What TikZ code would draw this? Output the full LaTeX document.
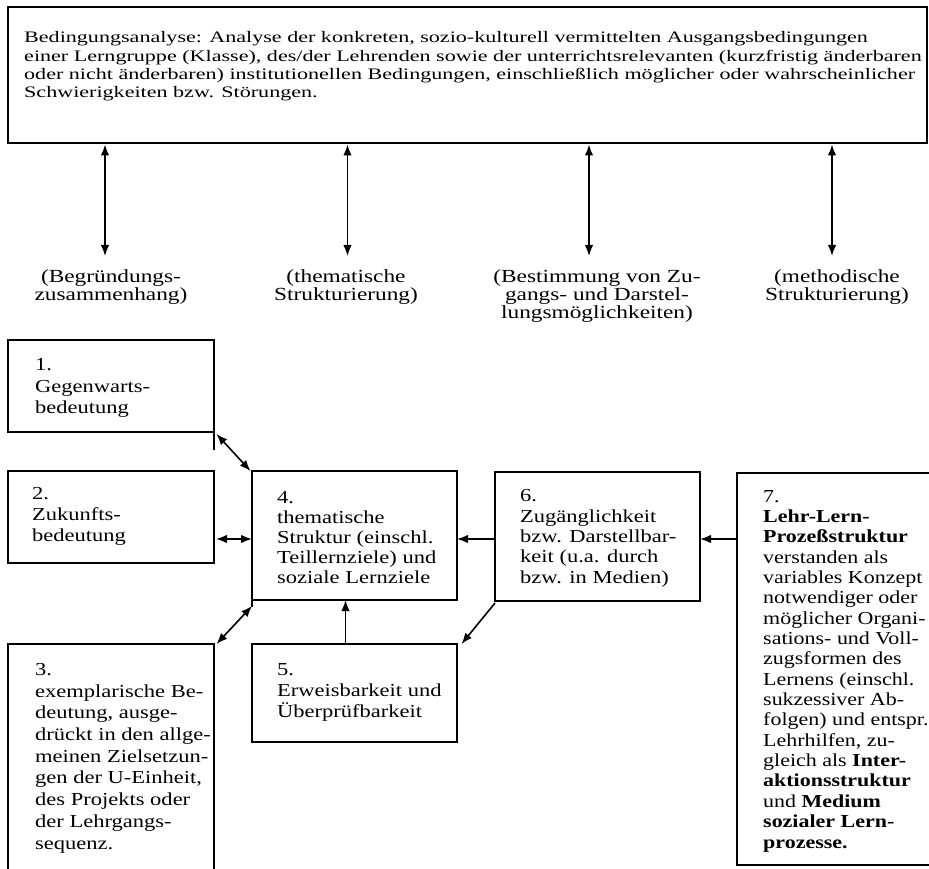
\documentclass[tikz,border=0pt]{standalone}
\usepackage{fontspec}
\setmainfont{Liberation Serif}
\newfontfamily\dfont[FakeStretch=1.23]{Liberation Serif}
\newfontfamily\sfontb[FakeStretch=1.20]{Liberation Serif}
\newfontfamily\lfont[FakeStretch=1.26]{Liberation Serif}
\newfontfamily\tfont[FakeStretch=1.38]{Liberation Serif}
\usetikzlibrary{arrows.meta,calc}
\begin{document}
\begin{tikzpicture}[x=1pt,y=-1pt,
  >={Latex[length=11pt,width=8.5pt]},
  box/.style={draw, line width=1.8pt, inner sep=0pt, outer sep=0pt, anchor=north west},
  txt/.style={anchor=base west, align=left, inner sep=0pt},
  toptxt/.style={anchor=base west, align=left, inner sep=0pt, font=\tfont\fontsize{16}{18.2}\selectfont},
  lbl/.style={anchor=base, align=center, inner sep=0pt, font=\lfont\fontsize{18.5}{18}\selectfont},
  arr/.style={line width=1.6pt}]
\clip (0,0) rectangle (929,869);
% boxes
\node[box, minimum width=919pt, minimum height=136pt] (b0) at (8,7) {};
\node[box, minimum width=206pt, minimum height=92pt] (b1) at (8,340) {};
\node[box, minimum width=206pt, minimum height=92pt] (b2) at (8,471) {};
\node[box, minimum width=206pt, minimum height=240pt] (b3) at (8,644) {};
\node[box, minimum width=205pt, minimum height=129pt] (b4) at (252,471) {};
\node[box, minimum width=205pt, minimum height=98pt] (b5) at (252,644) {};
\node[box, minimum width=205pt, minimum height=129pt] (b6) at (495,472) {};
\node[box, minimum width=215pt, minimum height=392pt] (b7) at (737,473) {};
\draw[line width=1.8pt] (b1.south east) -- ++(0,18);
\draw[line width=1.8pt] (b4.south west) -- ++(0,7);
% texts (anchored at the baseline of their last line)
\node[toptxt] (t0) at (24,97.6) {Bedingungsanalyse: Analyse der konkreten, sozio-kulturell vermittelten Ausgangsbedingungen\\
einer Lerngruppe (Klasse), des/der Lehrenden sowie der unterrichtsrelevanten (kurzfristig änderbaren\\
oder nicht änderbaren) institutionellen Bedingungen, einschließlich möglicher oder wahrscheinlicher\\
Schwierigkeiten bzw. Störungen.};
\node[txt, font=\dfont\fontsize{18.3}{21.5}\selectfont] (t1) at (35,413.5) {1.\\Gegenwarts-\\bedeutung};
\node[txt, font=\dfont\fontsize{18.3}{21}\selectfont] (t2) at (32,541) {2.\\Zukunfts-\\bedeutung};
\node[txt, font=\dfont\fontsize{18.3}{21.7}\selectfont] (t3) at (35,849) {3.\\exemplarische Be-\\deutung, ausge-\\drückt in den allge-\\meinen Zielsetzun-\\gen der U-Einheit,\\des Projekts oder\\der Lehrgangs-\\sequenz.};
\node[txt, font=\dfont\fontsize{18.3}{20}\selectfont] (t4) at (277,583) {4.\\thematische\\Struktur (einschl.\\Teillernziele) und\\soziale Lernziele};
\node[txt, font=\dfont\fontsize{18.3}{20.7}\selectfont] (t5) at (277,717) {5.\\Erweisbarkeit und\\Überprüfbarkeit};
\node[txt, font=\dfont\fontsize{18.3}{20.3}\selectfont] (t6) at (520,583) {6.\\Zugänglichkeit\\bzw. Darstellbar-\\keit (u.a. durch\\bzw. in Medien)};
\node[txt, font=\sfontb\fontsize{18.3}{20.35}\selectfont] (t7) at (763,848) {7.\\\textbf{Lehr-Lern-}\\\textbf{Prozeßstruktur}\\verstanden als\\variables Konzept\\notwendiger oder\\möglicher Organi-\\sations- und Voll-\\zugsformen des\\Lernens (einschl.\\sukzessiver Ab-\\folgen) und entspr.\\Lehrhilfen, zu-\\gleich als \textbf{Inter-}\\\textbf{aktionsstruktur}\\und \textbf{Medium}\\\textbf{sozialer Lern-}\\\textbf{prozesse.}};
% labels
\node[lbl] (L1) at (111,300.5) {(Begründungs-\\zusammenhang)};
\node[lbl] (L2) at (346,300.5) {(thematische\\Strukturierung)};
\node[lbl] (L3) at (597,318.5) {(Bestimmung von Zu-\\gangs- und Darstel-\\lungsmöglichkeiten)};
\node[lbl] (L4) at (837,300.5) {(methodische\\Strukturierung)};
% arrows from top box
\coordinate (e1) at (105,256);
\coordinate (e2) at (347.5,256);
\coordinate (e3) at (589,256);
\coordinate (e4) at (832,256);
\foreach \e in {e1,e2,e3,e4}
  \draw[arr,<->,shorten <=1.5pt] (b0.south -| \e) -- (\e);
% arrows between boxes
\draw[arr,<->] ([shift={(2.5,2)}]b1.south east) -- ([xshift=-1.5pt]b4.north west);
\draw[arr,<->] ([shift={(2,-24)}]b2.south east) -- ([yshift=24pt]b2.south east -| b4.west);
\draw[arr,<->] ([xshift=2.5pt]b3.north east) -- ([yshift=-6pt]b4.south west);
\draw[arr,->] ([xshift=-9pt]b5.north) -- ([xshift=-9pt]b5.north |- b4.south);
\draw[arr,->] ([yshift=62pt]b6.south west) -- ([yshift=62pt]b6.south west -| b4.east);
\draw[arr,->] ([yshift=-66pt]b7.north west) -- ([yshift=-66pt]b7.north west -| b6.east);
\draw[arr,->] ([yshift=-2pt]b6.south west) -- ([xshift=4.5pt]b5.north east);
\end{tikzpicture}
\end{document}
